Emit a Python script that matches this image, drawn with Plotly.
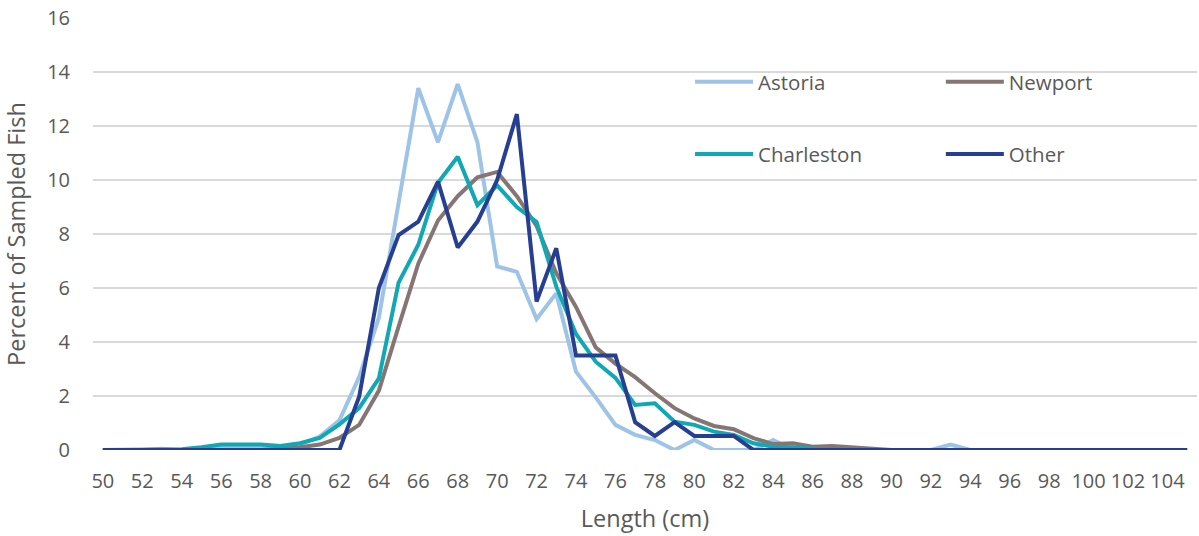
import plotly.graph_objects as go

lengths = list(range(50, 106))
tick_labels = [str(v) for v in range(50, 105, 2)]

astoria = [0, 0, 0, 0.05, 0, 0.05, 0.1, 0.1, 0.1, 0.1,
           0.2, 0.5, 1.1, 2.7, 4.9, 9.1, 13.4, 11.4, 13.55, 11.4,
           6.8, 6.6, 4.85, 5.8, 2.9, 1.95, 0.93, 0.56, 0.37, 0,
           0.37, 0, 0, 0, 0.37, 0, 0, 0, 0, 0,
           0, 0, 0, 0.2, 0, 0, 0, 0, 0, 0,
           0, 0, 0, 0, 0, 0]
newport = [0, 0, 0, 0, 0, 0, 0, 0, 0, 0.05,
           0.1, 0.2, 0.45, 0.93, 2.2, 4.57, 6.9, 8.5, 9.4, 10.1,
           10.3, 9.4, 8.3, 6.55, 5.3, 3.8, 3.2, 2.7, 2.1, 1.55,
           1.17, 0.89, 0.77, 0.44, 0.22, 0.25, 0.12, 0.15, 0.1, 0.05,
           0, 0, 0, 0, 0, 0, 0, 0, 0, 0,
           0, 0, 0, 0, 0, 0]
charleston = [0, 0, 0, 0, 0.03, 0.1, 0.2, 0.2, 0.2, 0.15,
              0.25, 0.45, 0.95, 1.55, 2.65, 6.2, 7.6, 9.9, 10.86, 9.07,
              9.8, 9.0, 8.45, 6.05, 4.3, 3.27, 2.67, 1.67, 1.73, 1.05,
              0.93, 0.68, 0.56, 0.25, 0.12, 0.1, 0.05, 0, 0, 0,
              0, 0, 0, 0, 0, 0, 0, 0, 0, 0,
              0, 0, 0, 0, 0, 0]
other = [0, 0, 0, 0, 0, 0, 0, 0, 0, 0,
         0, 0, 0, 1.97, 6.0, 7.96, 8.46, 9.94, 7.5, 8.46,
         10.0, 12.44, 5.5, 7.47, 3.5, 3.5, 3.5, 1.03, 0.52, 1.03,
         0.52, 0.52, 0.52, 0, 0, 0, 0, 0, 0, 0,
         0, 0, 0, 0, 0, 0, 0, 0, 0, 0,
         0, 0, 0, 0, 0, 0]

series = [
    ("Astoria", astoria, "#9DC3E6", "legend"),
    ("Newport", newport, "#857674", "legend2"),
    ("Charleston", charleston, "#0FA8B4", "legend3"),
    ("Other", other, "#263F91", "legend4"),
]

text_color = "#595959"
font_family = "Open Sans, Lato, sans-serif"

fig = go.Figure()
for name, vals, color, leg in series:
    fig.add_trace(go.Scatter(
        x=lengths, y=vals, name=name, mode="lines",
        line=dict(color=color, width=4),
        legend=leg,
    ))

legend_common = dict(
    xanchor="left",
    yanchor="middle",
    bgcolor="rgba(0,0,0,0)",
    font=dict(family=font_family, size=20.5, color=text_color),
    itemwidth=58,
)

fig.update_layout(
    width=1199, height=536,
    margin=dict(l=93, r=2, t=18, b=86, autoexpand=False),
    paper_bgcolor="white",
    plot_bgcolor="white",
    font=dict(family=font_family, size=20, color=text_color),
    showlegend=True,
    legend=dict(x=0.5408, y=0.852, **legend_common),
    legend2=dict(x=0.768, y=0.852, **legend_common),
    legend3=dict(x=0.5408, y=0.685, **legend_common),
    legend4=dict(x=0.768, y=0.685, **legend_common),
    xaxis=dict(
        range=[49.5, 105.5],
        tickmode="array",
        tickvals=list(range(50, 105, 2)),
        ticktext=tick_labels,
        showgrid=False,
        zeroline=False,
        showline=False,
        ticks="",
        ticklabelstandoff=17,
        tickfont=dict(size=20, color=text_color),
        title=dict(text="Length (cm)", font=dict(size=23.5, color=text_color), standoff=17),
    ),
    yaxis=dict(
        range=[0, 16],
        tickvals=list(range(0, 17, 2)),
        showgrid=True,
        gridcolor="#D9D9D9",
        gridwidth=1.5,
        zeroline=False,
        showline=False,
        ticks="",
        ticklabelstandoff=22,
        tickfont=dict(size=20, color=text_color),
        title=dict(text="Percent of Sampled Fish", font=dict(size=23.5, color=text_color), standoff=16),
    ),
)

fig.write_html("out.html")
